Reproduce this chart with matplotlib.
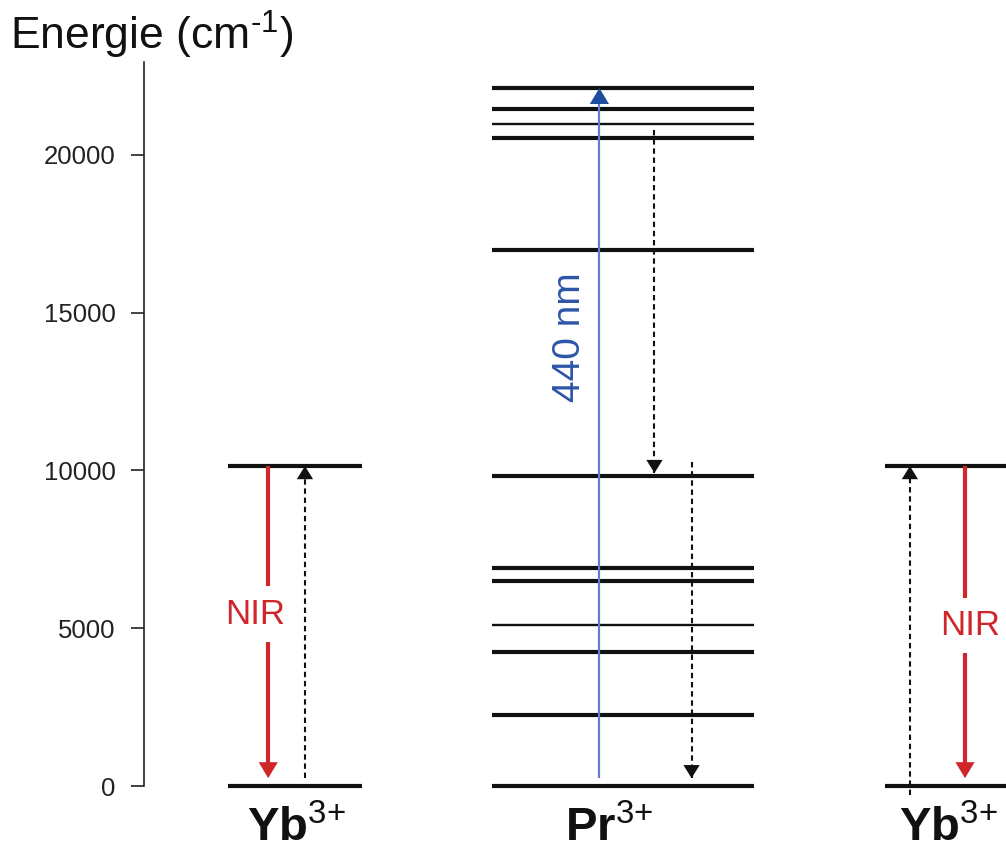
import numpy as np
import matplotlib
matplotlib.use('Agg')
import matplotlib.pyplot as plt

plt.rcParams['font.family'] = ['Liberation Sans', 'DejaVu Sans']
plt.rcParams['mathtext.fontset'] = 'custom'
plt.rcParams['mathtext.rm'] = 'Liberation Sans'
plt.rcParams['mathtext.it'] = 'Liberation Sans:italic'
plt.rcParams['mathtext.bf'] = 'Liberation Sans:bold'

# energy levels (cm-1)
yb_levels = [0, 10140]
pr_levels = [0, 2250, 4250, 5100, 6500, 6900, 9830, 17000, 20540, 20980, 21460, 22120]
pr_thin = [5100, 20980]
ion_names = [r'Yb$^{\text{3+}}$', r'Pr$^{\text{3+}}$', r'Yb$^{\text{3+}}$']

# transitions (start, end) in cm-1
blue_exc = (250, 22120)
pr_relax = [(20790, 9920), (10270, 250)]
yb_nir = (10140, 250)
yb_up_left = (250, 10140)
yb_up_right = (-290, 10140)
yticks = [0, 5000, 10000, 15000, 20000]

RED = '#d0262b'
BLUE_TXT = '#2c55a8'
BLUE_LINE = '#5f80c6'
BLUE_HEAD = '#1d4ea0'

fig = plt.figure(figsize=(10.06, 8.52), dpi=100)
ax = fig.add_axes([0, 0, 1, 1])
ax.set_xlim(0.10, 3.168)
ax.set_ylim(-2090, 24910)

for s in ['top', 'right', 'bottom']:
    ax.spines[s].set_visible(False)
ax.spines['left'].set_position(('data', 0.54))
ax.spines['left'].set_bounds(0, 22950)
ax.spines['left'].set_linewidth(1.2)
ax.spines['left'].set_color('#222222')
ax.set_xticks([])
ax.set_yticks(yticks)
ax.tick_params(axis='y', direction='out', length=9.5, width=1.2, pad=11,
               labelsize=18.5, colors='#222222')

cols = [1.0, 2.0, 3.003]
hw_yb = 0.204
hw_pr = 0.401

# level lines
for c in [cols[0], cols[2]]:
    for e in yb_levels:
        ax.plot([c - hw_yb, c + hw_yb], [e, e], color='#111111', lw=3.0,
                solid_capstyle='butt', zorder=2)
for e in pr_levels:
    lw = 1.7 if e in pr_thin else 3.0
    ax.plot([cols[1] - hw_pr, cols[1] + hw_pr], [e, e], color='#111111', lw=lw,
            solid_capstyle='butt', zorder=2)


def dashed_arrow(x, y0, y1):
    ax.plot([x, x], [y0, y1], color='#111111', lw=1.5, dashes=[2.6, 1.8], zorder=3)
    d = 300 if y1 > y0 else -300
    ax.annotate('', xy=(x, y1), xytext=(x, y1 - d),
                arrowprops=dict(arrowstyle='-|>,head_length=0.45,head_width=0.28',
                                mutation_scale=21, color='#111111', lw=0,
                                shrinkA=0, shrinkB=0), zorder=4)


def solid_arrow(x, y0, y1, color, lw, headcolor=None):
    ax.plot([x, x], [y0, y1 - (350 if y1 > y0 else -350)], color=color, lw=lw,
            solid_capstyle='butt', zorder=3)
    d = 500 if y1 > y0 else -500
    ax.annotate('', xy=(x, y1), xytext=(x, y1 - d),
                arrowprops=dict(arrowstyle='-|>,head_length=0.5,head_width=0.3',
                                mutation_scale=23, color=headcolor or color, lw=0,
                                shrinkA=0, shrinkB=0), zorder=4)


# Yb left
solid_arrow(cols[0] - 0.082, yb_nir[0], yb_nir[1], RED, 3.0)
dashed_arrow(cols[0] + 0.030, yb_up_left[0], yb_up_left[1])
ax.text(cols[0] - 0.122, 5450, 'NIR', color=RED, fontsize=25, ha='center', va='center',
        bbox=dict(boxstyle='square,pad=0.32', fc='white', ec='none'), zorder=5)

# Pr
solid_arrow(cols[1] - 0.072, blue_exc[0], blue_exc[1], BLUE_LINE, 1.6, BLUE_HEAD)
ax.text(cols[1] - 0.163, 14230, '440 nm', color=BLUE_TXT, fontsize=28, rotation=90,
        ha='center', va='center')
dashed_arrow(cols[1] + 0.096, pr_relax[0][0], pr_relax[0][1])
dashed_arrow(cols[1] + 0.209, pr_relax[1][0], pr_relax[1][1])

# Yb right
dashed_arrow(cols[2] - 0.128, yb_up_right[0], yb_up_right[1])
solid_arrow(cols[2] + 0.040, yb_nir[0], yb_nir[1], RED, 3.0)
ax.text(cols[2] + 0.055, 5100, 'NIR', color=RED, fontsize=25, ha='center', va='center',
        bbox=dict(boxstyle='square,pad=0.32', fc='white', ec='none'), zorder=5)

# ion labels
for c, off, name in zip(cols, [0.003, -0.041, -0.01], ion_names):
    ax.text(c + off, -1740, name, fontsize=34, fontweight='bold', ha='center',
            va='baseline', color='#111111')

fig.text(10 / 1006, 1 - 50 / 852, r'Energie (cm$^{\text{-1}}$)', fontsize=32,
         ha='left', va='baseline', color='#111111')

fig.savefig('out.png', dpi=100)
